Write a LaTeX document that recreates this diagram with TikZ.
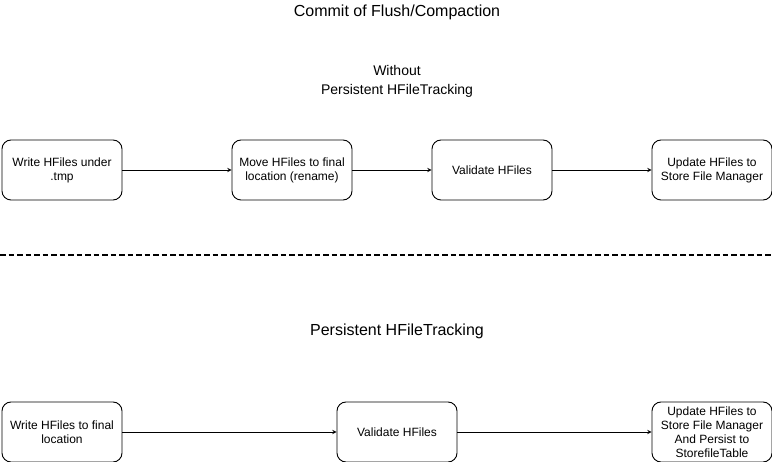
\documentclass[tikz,border=0pt]{standalone}
\usepackage{fontspec}
\setmainfont{Liberation Sans}
\usepackage{tikz}
\usetikzlibrary{arrows, positioning}
\tikzstyle{process} = [rectangle, rounded corners=9pt, minimum width=120pt, minimum height=60pt, align=center, draw=black, line width=0.9pt, font=\fontsize{12}{14}\selectfont]
\tikzstyle{heading} = [align=center, font=\fontsize{16}{19}\selectfont]
\tikzstyle{arrow} = [line width=0.9pt,->,>=stealth]

\begin{document}
\begin{tikzpicture}[x=1pt, y=-1pt, node distance=230pt]
		\useasboundingbox (0,0) rectangle (772,462);
		\node (title) [heading] at (397,12) {Commit of Flush/Compaction};
		\node (head1) [heading, font=\fontsize{14}{19}\selectfont] at (397,81) {Without\\Persistent HFileTracking};
		\node (head2) [heading] at (397,331) {Persistent HFileTracking};

		% without tracking
		\node (write1) [process] at (62,170) {Write HFiles under\\.tmp};
		\node (move1) [process, right of=write1] {Move HFiles to final\\location (rename)};
		\node (valid1) [process, right of=move1, xshift=-30pt] {Validate HFiles};
		\node (update1) [process, right of=valid1, xshift=-10pt] {Update HFiles to\\Store File Manager};

		% separator
		\coordinate (sepl) at (0,255);
		\coordinate (sepr) at (772,255);
		\draw [line width=1.8pt, dash pattern=on 5.5pt off 3pt] (sepl) -- (sepr);

		% with tracking
		\node (write2) [process] at (62,432) {Write HFiles to final\\location};
		\node (valid2) [process, right of=write2, xshift=105pt] {Validate HFiles};
		\node (update2) [process, right of=valid2, xshift=85pt] {Update HFiles to\\Store File Manager\\And Persist to\\StorefileTable};

		\draw [arrow] (write1) -- (move1);
		\draw [arrow] (move1) -- (valid1);
		\draw [arrow] (valid1) -- (update1);
		\draw [arrow] (write2) -- (valid2);
		\draw [arrow] (valid2) -- (update2);
	\end{tikzpicture}
\end{document}
